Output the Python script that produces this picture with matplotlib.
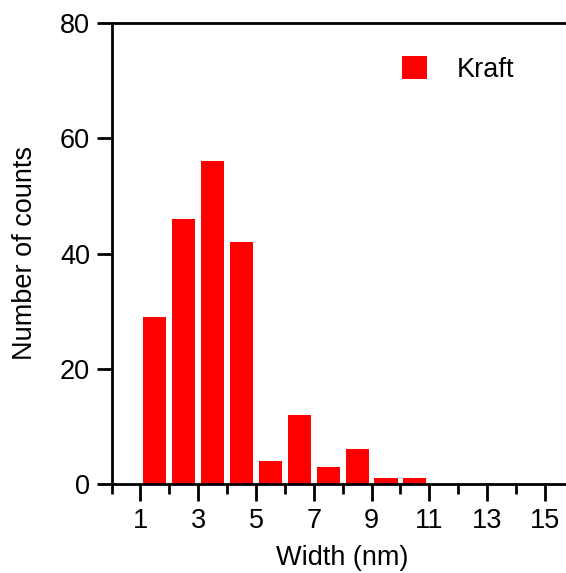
import matplotlib
matplotlib.use("Agg")
import matplotlib.pyplot as plt
from matplotlib.ticker import MultipleLocator

# data
bin_centers = [1.5, 2.5, 3.5, 4.5, 5.5, 6.5, 7.5, 8.5, 9.5, 10.5]
counts = [29, 46, 56, 42, 4, 12, 3, 6, 1, 1]
xticks_major = [1, 3, 5, 7, 9, 11, 13, 15]
yticks = [0, 20, 40, 60, 80]

FS = 19.5
plt.rcParams['font.family'] = ['Liberation Sans', 'DejaVu Sans']
plt.rcParams['font.size'] = FS

fig = plt.figure(figsize=(5.66, 5.73), dpi=100)
ax = fig.add_axes([111.5 / 566, 1 - 484 / 573, 462.3 / 566, 461 / 573])

ax.bar(bin_centers, counts, width=0.8, color='#ff0000', label='Kraft', zorder=2)

ax.set_xlim(0, 16)
ax.set_ylim(0, 80)
ax.set_xticks(xticks_major)
ax.xaxis.set_minor_locator(MultipleLocator(1))
ax.set_yticks(yticks)

for s in ['left', 'bottom', 'top']:
    ax.spines[s].set_linewidth(2)
ax.spines['right'].set_visible(False)

ax.tick_params(axis='x', which='major', direction='out', length=12, width=2, pad=5)
ax.tick_params(axis='x', which='minor', direction='out', length=7, width=2)
ax.tick_params(axis='y', which='major', direction='out', length=10.5, width=2, pad=5)
ax.tick_params(labelsize=FS)

ax.set_xlabel('Width (nm)', fontsize=FS, labelpad=8)
ax.set_ylabel('Number of counts', fontsize=FS, labelpad=16)

ax.legend(loc='center left', bbox_to_anchor=(402 / 566, 1 - 69.5 / 573),
          bbox_transform=fig.transFigure, frameon=False, fontsize=FS,
          handlelength=0.92, handleheight=0.92, handletextpad=1.1,
          borderpad=0, borderaxespad=0)

fig.savefig('out.png', dpi=100)
